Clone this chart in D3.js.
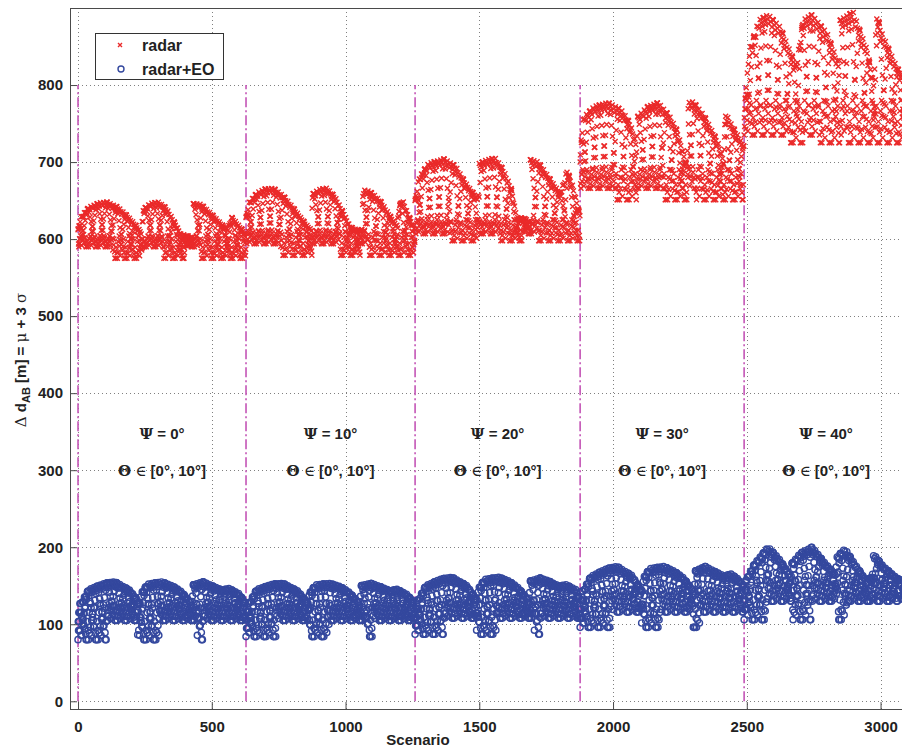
<!DOCTYPE html>
<html>
<head>
<meta charset="utf-8">
<script src="https://cdn.jsdelivr.net/npm/d3@7"></script>
<style>
  html, body { margin: 0; padding: 0; background: #fff; }
  svg { display: block; }
  text { font-family: "Liberation Sans", Arial, sans-serif; }
</style>
</head>
<body>
<svg id="chart" width="902" height="749"></svg>
<script>
// ---- Scenario blocks (one per heading angle Ψ) ----
const blockStarts = [0, 628, 1260, 1877, 2490];
const blockEnds   = [628, 1260, 1877, 2490, 3110];
const psiLabels   = ["Ψ = 0°", "Ψ = 10°", "Ψ = 20°", "Ψ = 30°", "Ψ = 40°"];
const thetaLabel  = "Θ ∈ [0°, 10°]";

const xTicks = [0, 500, 1000, 1500, 2000, 2500, 3000];
const yTicks = [0, 100, 200, 300, 400, 500, 600, 700, 800];

// ---- radar: upper envelope of each block, [scenario, value] ----
const radarTop = [
  [[0,612],[10,628],[40,641],[80,647],[108,648],[150,641],[190,628],[225,614],[238,608],[242,638],[270,646],[300,648],[330,640],[360,622],[385,606],[428,604],[431,646],[460,645],[500,632],[540,618],[560,614],[575,628],[600,618],[628,606]],
  [[628,628],[640,648],[670,660],[700,665],[730,666],[770,655],[810,638],[850,620],[872,612],[876,658],[900,664],[930,666],[960,655],[990,635],[1017,616],[1040,612],[1062,612],[1065,664],[1090,662],[1129,650],[1170,628],[1192,618],[1200,640],[1211,653],[1230,635],[1260,612]],
  [[1260,650],[1275,680],[1310,698],[1368,704],[1410,695],[1450,672],[1495,652],[1500,698],[1530,703],[1559,705],[1590,690],[1620,665],[1640,628],[1688,626],[1691,703],[1720,700],[1760,680],[1800,660],[1815,672],[1828,690],[1850,668],[1877,630]],
  [[1877,700],[1880,728],[1890,758],[1930,772],[1981,777],[2030,768],[2064,750],[2088,722],[2090,758],[2130,772],[2168,777],[2210,760],[2239,741],[2277,694],[2280,777],[2300,778],[2340,760],[2389,728],[2415,700],[2419,765],[2440,750],[2465,735],[2490,720]],
  [[2490,760],[2495,790],[2510,845],[2545,884],[2580,891],[2625,875],[2660,845],[2685,825],[2710,884],[2743,891],[2800,867],[2845,825],[2849,884],[2897,895],[2950,845],[2975,800],[2985,893],[3005,867],[3060,823],[3110,800]]
];
const radarBandLow  = [590, 594, 607, 666, 735];
const radarBandHigh = [604, 610, 625, 690, 780];
const radarDipLow   = [575, 579, 598, 651, 725];
const radarDips = [
  [[127,244],[320,400],[455,628]],
  [[755,875],[980,1055],[1085,1260]],
  [[1387,1504],[1580,1660],[1715,1877]],
  [[2000,2090],[2185,2277],[2310,2490]],
  [[2650,2720],[2774,2850],[2870,3110]]
];

// ---- radar+EO: upper envelope of each block, [scenario, value] ----
const eoTop = [
  [[0,112],[10,127],[40,145],[100,153],[138,155],[194,144],[232,127],[236,140],[260,152],[313,155],[350,150],[381,144],[426,127],[430,151],[467,155],[500,150],[542,144],[560,147],[600,140],[628,127]],
  [[628,112],[638,127],[668,145],[728,152],[766,153],[822,143],[860,127],[864,140],[888,151],[941,153],[978,149],[1009,143],[1054,127],[1058,150],[1095,153],[1128,149],[1170,143],[1188,146],[1228,139],[1260,127]],
  [[1260,116],[1270,131],[1300,150],[1360,159],[1398,161],[1454,150],[1492,131],[1496,146],[1520,158],[1573,161],[1610,156],[1641,149],[1686,131],[1690,156],[1727,160],[1760,156],[1802,149],[1820,152],[1860,145],[1877,131]],
  [[1877,124],[1887,143],[1917,162],[1977,172],[2015,175],[2071,163],[2109,143],[2113,160],[2137,172],[2190,175],[2227,169],[2258,162],[2303,143],[2307,169],[2344,175],[2377,169],[2419,162],[2437,166],[2470,158],[2490,150]],
  [[2490,150],[2500,160],[2530,179],[2580,200],[2620,185],[2650,170],[2665,160],[2669,179],[2700,192],[2744,200],[2790,180],[2830,165],[2837,187],[2867,198],[2900,180],[2950,155],[2970,165],[2972,192],[3010,175],[3060,160],[3110,150]]
];
const eoBandLow  = [105, 105, 108, 116, 130];
const eoBandHigh = [127, 127, 131, 143, 157];
const eoDipLow   = [80, 84, 87, 96, 106];
const eoDips = [
  [[0,108],[220,306],[445,470]],
  [[628,740],[865,940],[1075,1100]],
  [[1260,1370],[1490,1570],[1705,1730]],
  [[1877,1990],[2105,2178],[2300,2328]],
  [[2486,2576],[2669,2744],[2841,2879]]
];

// Sweep order of the simulated elevations inside each block:
// a scenario lies on the arch rim, on a rising or falling elevation ramp,
// or inside the low band.
const rimLevels  = [1, 0.965, 0.93];
const bandLevels = [0, 0.5, 0.25, 0.75, 1, 0.12, 0.62, 0.37, 0.87];
const rampSteps  = 9;

function envelopeAt(keys, s) {
  if (s <= keys[0][0]) return keys[0][1];
  for (let i = 1; i < keys.length; i++) {
    if (s <= keys[i][0]) {
      const [s0, v0] = keys[i - 1], [s1, v1] = keys[i];
      return v0 + (v1 - v0) * (s - s0) / (s1 - s0);
    }
  }
  return keys[keys.length - 1][1];
}

function buildSeries(top, bandLow, bandHigh, dipLow, dips) {
  const pts = [];
  blockStarts.forEach((b0, b) => {
    for (let s = b0; s < blockEnds[b]; s++) {
      const r = s - b0, m = r % 4, q = Math.floor(r / 4);
      const t = envelopeAt(top[b], s);
      const inDip = dips[b].some(([a, c]) => s >= a && s < c);
      const lo = inDip ? dipLow[b] : bandLow[b];
      const hiBand = bandHigh[b];
      const hi = Math.max(t, hiBand);
      let v;
      if (m === 2 || hi - hiBand < 1.5) {
        v = lo + (hiBand - lo) * bandLevels[(q + m) % bandLevels.length];
      } else if (m === 0) {
        v = lo + (hi - lo) * rimLevels[q % rimLevels.length];
      } else {
        const k = (q % rampSteps) / (rampSteps - 1);
        v = lo + (hi - lo) * (m === 1 ? 1 - k : k);
      }
      pts.push({ s, v });
    }
  });
  return pts;
}

const radar = buildSeries(radarTop, radarBandLow, radarBandHigh, radarDipLow, radarDips);
const radarEO = buildSeries(eoTop, eoBandLow, eoBandHigh, eoDipLow, eoDips);

// ---- Layout ----
const svg = d3.select("#chart");
const x = d3.scaleLinear().domain([-30, 3100]).range([70, 907.3]);
const y = d3.scaleLinear().domain([-10, 900]).range([709, 8]);
const [L, R] = x.range(), [B, T] = y.range();

const RED = "#ea2a2a", BLUE = "#34489e", MAGENTA = "#c455b6";
const CROSS = "M-2.5,-2.5L2.5,2.5M-2.5,2.5L2.5,-2.5";

svg.append("defs").append("clipPath").attr("id", "plotclip")
  .append("rect").attr("x", L).attr("y", T).attr("width", R - L).attr("height", B - T);

// grid
const grid = svg.append("g").attr("stroke", "#808080").attr("stroke-width", 1)
  .attr("stroke-dasharray", "1,3").attr("shape-rendering", "crispEdges");
grid.selectAll("line.gx").data(xTicks).join("line")
  .attr("x1", d => Math.round(x(d)) + 0.5).attr("x2", d => Math.round(x(d)) + 0.5)
  .attr("y1", T).attr("y2", B);
grid.selectAll("line.gy").data(yTicks).join("line")
  .attr("y1", d => Math.round(y(d)) + 0.5).attr("y2", d => Math.round(y(d)) + 0.5)
  .attr("x1", L).attr("x2", R);

// block separators
svg.append("g").selectAll("line").data(blockStarts).join("line")
  .attr("x1", d => x(d)).attr("x2", d => x(d))
  .attr("y1", y(0)).attr("y2", y(800))
  .attr("stroke", MAGENTA).attr("stroke-width", 1.6)
  .attr("stroke-dasharray", "10,3,2,3");

// scatter
const plot = svg.append("g").attr("clip-path", "url(#plotclip)");
plot.append("g").selectAll("path").data(radar).join("path")
  .attr("transform", d => `translate(${x(d.s)},${y(d.v)})`)
  .attr("d", CROSS)
  .attr("stroke", RED).attr("stroke-width", 1.4).attr("fill", "none");
plot.append("g").selectAll("circle").data(radarEO).join("circle")
  .attr("cx", d => x(d.s)).attr("cy", d => y(d.v)).attr("r", 3.1)
  .attr("stroke", BLUE).attr("stroke-width", 1.4).attr("fill", "none");

// axes frame
const frame = svg.append("g").attr("stroke", "#4a4a4a").attr("stroke-width", 1).attr("shape-rendering", "crispEdges");
frame.append("line").attr("x1", L + 0.5).attr("x2", L + 0.5).attr("y1", T).attr("y2", B + 0.5);
frame.append("line").attr("x1", L).attr("x2", R).attr("y1", B + 0.5).attr("y2", B + 0.5);
frame.append("line").attr("x1", L).attr("x2", R).attr("y1", T + 0.5).attr("y2", T + 0.5);

// axes (inward ticks)
const xAxis = svg.append("g").attr("transform", `translate(0,${B})`)
  .call(d3.axisBottom(x).tickValues(xTicks).tickFormat(d3.format("d")).tickSize(-7).tickPadding(12).tickSizeOuter(0));
const yAxis = svg.append("g").attr("transform", `translate(${L},0)`)
  .call(d3.axisLeft(y).tickValues(yTicks).tickFormat(d3.format("d")).tickSize(-7).tickPadding(12).tickSizeOuter(0));
[xAxis, yAxis].forEach(g => {
  g.select(".domain").remove();
  g.selectAll(".tick line").attr("stroke", "#4a4a4a");
  g.selectAll(".tick text").attr("fill", "#222").attr("font-size", 15).attr("font-weight", "bold")
    .attr("font-family", "Liberation Sans, Arial, sans-serif");
});
yAxis.selectAll(".tick text").attr("dx", 5);

// axis titles
svg.append("text").attr("x", 418).attr("y", 745).attr("text-anchor", "middle")
  .attr("font-size", 15).attr("font-weight", "bold").attr("fill", "#222").text("Scenario");

const yl = svg.append("text").attr("transform", "translate(26,360) rotate(-90)")
  .attr("text-anchor", "middle").attr("font-size", 15).attr("font-weight", "bold").attr("fill", "#222");
yl.append("tspan").attr("font-family", "DejaVu Serif, serif").attr("font-weight", "normal").text("Δ");
yl.append("tspan").text(" d");
yl.append("tspan").attr("font-size", 11).attr("dy", 4).text("AB");
yl.append("tspan").attr("dy", -4).text(" [m] = ");
yl.append("tspan").attr("font-family", "DejaVu Serif, serif").attr("font-weight", "normal").text("μ");
yl.append("tspan").text(" + 3 ");
yl.append("tspan").attr("font-family", "DejaVu Serif, serif").attr("font-weight", "normal").text("σ");

// block annotations
const ann = svg.append("g").attr("font-size", 15).attr("font-weight", "bold").attr("fill", "#222").attr("text-anchor", "middle");
blockStarts.forEach((b0, i) => {
  const cx = (x(b0) + x(blockEnds[i] - (i === 4 ? 7 : 0))) / 2;
  const t1 = ann.append("text").attr("x", cx).attr("y", 439);
  t1.append("tspan").attr("font-family", "DejaVu Serif, serif").text(psiLabels[i].slice(0, 1));
  t1.append("tspan").text(psiLabels[i].slice(1));
  const t2 = ann.append("text").attr("x", cx).attr("y", 476);
  t2.append("tspan").attr("font-family", "DejaVu Serif, serif").text("Θ");
  t2.append("tspan").text(" ");
  t2.append("tspan").attr("font-family", "DejaVu Serif, serif").attr("font-weight", "normal").text("∈");
  t2.append("tspan").text(thetaLabel.slice(3));
});

// legend
const lg = svg.append("g");
lg.append("rect").attr("x", 95.5).attr("y", 33.5).attr("width", 128).attr("height", 46)
  .attr("fill", "#fff").attr("stroke", "#333").attr("stroke-width", 1);
lg.append("path").attr("transform", "translate(120,45)").attr("d", "M-2,-2L2,2M-2,2L2,-2")
  .attr("stroke", RED).attr("stroke-width", 1.4);
lg.append("circle").attr("cx", 121).attr("cy", 69).attr("r", 3).attr("fill", "none")
  .attr("stroke", BLUE).attr("stroke-width", 1.4);
lg.append("text").attr("x", 142).attr("y", 51).attr("font-size", 16).attr("font-weight", "bold").attr("fill", "#222").text("radar");
lg.append("text").attr("x", 142).attr("y", 75).attr("font-size", 16).attr("font-weight", "bold").attr("fill", "#222").text("radar+EO");
</script>
</body>
</html>
